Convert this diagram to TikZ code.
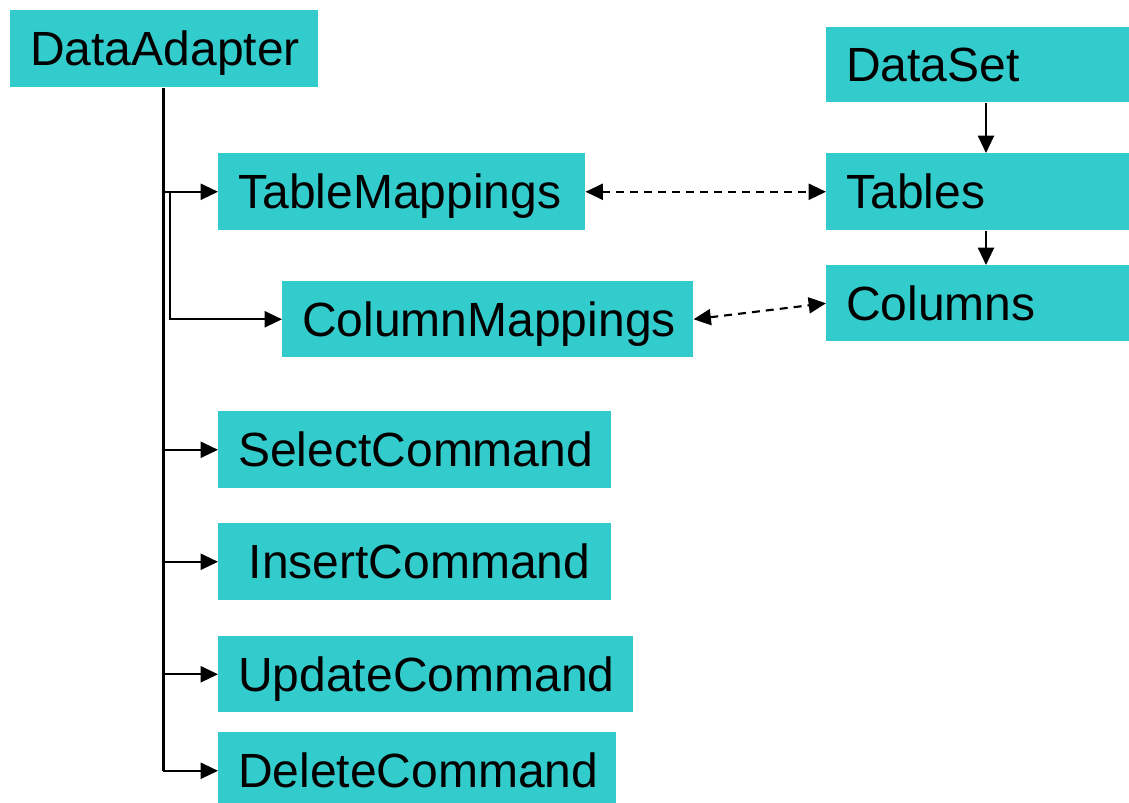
\documentclass[tikz,border=0pt]{standalone}
\usepackage{fontspec}
\setmainfont{Liberation Sans}
\usetikzlibrary{arrows.meta}
\definecolor{boxteal}{HTML}{33CCCC}
\tikzset{
  box/.style={fill=boxteal, anchor=north west, inner xsep=15pt, inner ysep=0pt,
    align=left, text height=25.8pt, text depth=0pt, minimum height=57.75pt,
    font=\fontsize{36}{43}\selectfont},
  tip/.tip={Triangle[length=13pt,width=12pt]},
  link/.style={line width=1.6pt, -tip},
  trunk/.style={line width=2.25pt},
  assoc/.style={line width=1.6pt, dash pattern=on 6pt off 4.5pt, tip-tip}
}
\begin{document}
\begin{tikzpicture}[x=0.75pt, y=-0.75pt]
\useasboundingbox (0,0) rectangle (1129,803);
% left column: adapter and its members
\node[box, text width=201pt] (da) at (10,10) {DataAdapter};
\node[box, text width=245.25pt] (tm) at (218,153) {TableMappings};
\node[box, text width=278.25pt, minimum height=57pt] (cm) at (282,281) {ColumnMappings};
\node[box, text width=264.75pt] (sc) at (218,411) {SelectCommand};
\node[box, text width=264.75pt] (ic) at (218,523) {\mbox{\hspace*{8pt}InsertCommand}};
\node[box, text width=281.25pt, minimum height=57pt] (uc) at (218,636) {UpdateCommand};
\node[box, text width=268.5pt] (dc) at (218,732) {DeleteCommand};
% right column: data set hierarchy
\node[box, text width=197.25pt, minimum height=56.25pt] (ds) at (826,27) {DataSet};
\node[box, text width=197.25pt] (tb) at (826,153) {Tables};
\node[box, text width=197.25pt, minimum height=57pt] (co) at (826,265) {Columns};
% guide coordinates for the vertical runs
\coordinate (tx) at (163,0);
\coordinate (bx) at (170,0);
\coordinate (rx) at (986,0);
% trunk and branches
\draw[trunk] (tx |- da.south) -- (tx |- dc.west);
\draw[link] (tx |- tm.west) -- (tm.west);
\draw[link] (bx |- tm.west) -- (bx |- cm.west) -- (cm.west);
\draw[link] (tx |- sc.west) -- (sc.west);
\draw[link] (tx |- ic.west) -- (ic.west);
\draw[link] (tx |- uc.west) -- (uc.west);
\draw[link] (tx |- dc.west) -- (dc.west);
% data set containment
\draw[link] (rx |- ds.south) -- (rx |- tb.north);
\draw[link] (rx |- tb.south) -- (rx |- co.north);
% mappings
\draw[assoc] (tm.east) -- (tb.west);
\draw[assoc] (cm.east) -- (co.west);
\end{tikzpicture}
\end{document}
